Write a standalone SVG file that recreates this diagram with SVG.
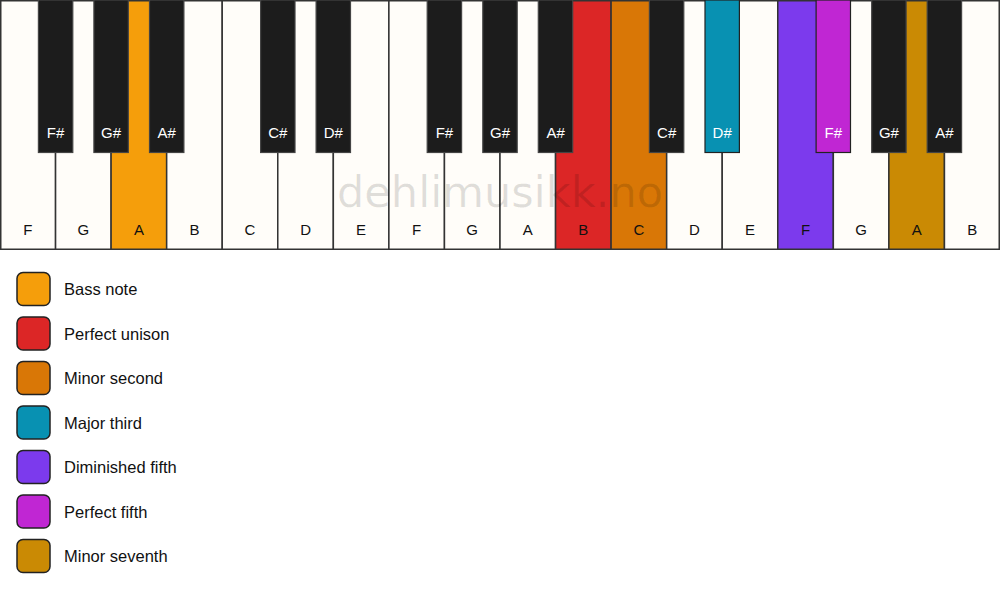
<svg xmlns="http://www.w3.org/2000/svg" width="1000" height="594" viewBox="0 0 1000 594">
<style>
.w{fill:#fffdf9;stroke:#333;stroke-width:1.5}
.b{fill:#1c1c1c;stroke:#444;stroke-width:1.2}
.wl{font-family:"Liberation Sans",Arial,sans-serif;font-size:15px;fill:#111;text-anchor:middle}
.bl{font-family:"Liberation Sans",Arial,sans-serif;font-size:15px;fill:#fff;text-anchor:middle}
.sw{stroke:#222;stroke-width:1.5}
.lt{font-family:"Liberation Sans",Arial,sans-serif;font-size:16.5px;fill:#111}
</style>
<rect width="1000" height="594" fill="#ffffff"/>
<g id="white-keys">
<rect class="w" x="0.75" y="0.75" width="54.8" height="248.5"/>
<rect class="w" x="55.56" y="0.75" width="55.56" height="248.5"/>
<rect class="w" x="111.11" y="0.75" width="55.56" height="248.5" style="fill:#f59e0b"/>
<rect class="w" x="166.67" y="0.75" width="55.56" height="248.5"/>
<rect class="w" x="222.22" y="0.75" width="55.56" height="248.5"/>
<rect class="w" x="277.78" y="0.75" width="55.56" height="248.5"/>
<rect class="w" x="333.33" y="0.75" width="55.56" height="248.5"/>
<rect class="w" x="388.89" y="0.75" width="55.56" height="248.5"/>
<rect class="w" x="444.44" y="0.75" width="55.56" height="248.5"/>
<rect class="w" x="500" y="0.75" width="55.56" height="248.5"/>
<rect class="w" x="555.56" y="0.75" width="55.56" height="248.5" style="fill:#dc2626"/>
<rect class="w" x="611.11" y="0.75" width="55.56" height="248.5" style="fill:#d97706"/>
<rect class="w" x="666.67" y="0.75" width="55.56" height="248.5"/>
<rect class="w" x="722.22" y="0.75" width="55.56" height="248.5"/>
<rect class="w" x="777.78" y="0.75" width="55.56" height="248.5" style="fill:#7c3aed"/>
<rect class="w" x="833.33" y="0.75" width="55.56" height="248.5"/>
<rect class="w" x="888.89" y="0.75" width="55.56" height="248.5" style="fill:#ca8a04"/>
<rect class="w" x="944.44" y="0.75" width="54.8" height="248.5"/>
</g>
<g id="white-labels">
<text class="wl" x="27.8" y="235">F</text>
<text class="wl" x="83.3" y="235">G</text>
<text class="wl" x="138.9" y="235">A</text>
<text class="wl" x="194.4" y="235">B</text>
<text class="wl" x="250" y="235">C</text>
<text class="wl" x="305.6" y="235">D</text>
<text class="wl" x="361.1" y="235">E</text>
<text class="wl" x="416.7" y="235">F</text>
<text class="wl" x="472.2" y="235">G</text>
<text class="wl" x="527.8" y="235">A</text>
<text class="wl" x="583.3" y="235">B</text>
<text class="wl" x="638.9" y="235">C</text>
<text class="wl" x="694.4" y="235">D</text>
<text class="wl" x="750" y="235">E</text>
<text class="wl" x="805.6" y="235">F</text>
<text class="wl" x="861.1" y="235">G</text>
<text class="wl" x="916.7" y="235">A</text>
<text class="wl" x="972.2" y="235">B</text>
</g>
<text x="500" y="207" font-family="DejaVu Sans,sans-serif" font-size="43" fill="#000" fill-opacity="0.12" text-anchor="middle" textLength="326" lengthAdjust="spacing">dehlimusikk.no</text>
<g id="black-keys">
<rect class="b" x="38.4" y="0" width="34.4" height="152.5"/>
<rect class="b" x="93.9" y="0" width="34.4" height="152.5"/>
<rect class="b" x="149.5" y="0" width="34.4" height="152.5"/>
<rect class="b" x="260.6" y="0" width="34.4" height="152.5"/>
<rect class="b" x="316.1" y="0" width="34.4" height="152.5"/>
<rect class="b" x="427.2" y="0" width="34.4" height="152.5"/>
<rect class="b" x="482.8" y="0" width="34.4" height="152.5"/>
<rect class="b" x="538.3" y="0" width="34.4" height="152.5"/>
<rect class="b" x="649.4" y="0" width="34.4" height="152.5"/>
<rect class="b" x="705" y="0" width="34.4" height="152.5" style="fill:#0891b2;stroke:#222"/>
<rect class="b" x="816.1" y="0" width="34.4" height="152.5" style="fill:#c026d3;stroke:#222"/>
<rect class="b" x="871.7" y="0" width="34.4" height="152.5"/>
<rect class="b" x="927.2" y="0" width="34.4" height="152.5"/>
</g>
<g id="black-labels">
<text class="bl" x="55.6" y="138">F#</text>
<text class="bl" x="111.1" y="138">G#</text>
<text class="bl" x="166.7" y="138">A#</text>
<text class="bl" x="277.8" y="138">C#</text>
<text class="bl" x="333.3" y="138">D#</text>
<text class="bl" x="444.4" y="138">F#</text>
<text class="bl" x="500" y="138">G#</text>
<text class="bl" x="555.6" y="138">A#</text>
<text class="bl" x="666.7" y="138">C#</text>
<text class="bl" x="722.2" y="138">D#</text>
<text class="bl" x="833.3" y="138">F#</text>
<text class="bl" x="888.9" y="138">G#</text>
<text class="bl" x="944.4" y="138">A#</text>
</g>
<g id="legend">
<g id="legend-bass"><rect class="sw" x="17" y="272.5" width="33" height="33" rx="6" fill="#f59e0b"/><text class="lt" x="64" y="295">Bass note</text></g>
<g id="legend-unison"><rect class="sw" x="17" y="317" width="33" height="33" rx="6" fill="#dc2626"/><text class="lt" x="64" y="339.5">Perfect unison</text></g>
<g id="legend-minor-second"><rect class="sw" x="17" y="361.5" width="33" height="33" rx="6" fill="#d97706"/><text class="lt" x="64" y="384">Minor second</text></g>
<g id="legend-major-third"><rect class="sw" x="17" y="406" width="33" height="33" rx="6" fill="#0891b2"/><text class="lt" x="64" y="428.5">Major third</text></g>
<g id="legend-dim-fifth"><rect class="sw" x="17" y="450.5" width="33" height="33" rx="6" fill="#7c3aed"/><text class="lt" x="64" y="473">Diminished fifth</text></g>
<g id="legend-perfect-fifth"><rect class="sw" x="17" y="495" width="33" height="33" rx="6" fill="#c026d3"/><text class="lt" x="64" y="517.5">Perfect fifth</text></g>
<g id="legend-minor-seventh"><rect class="sw" x="17" y="539.5" width="33" height="33" rx="6" fill="#ca8a04"/><text class="lt" x="64" y="562">Minor seventh</text></g>
</g>
<g id="connectors"/>
</svg>
